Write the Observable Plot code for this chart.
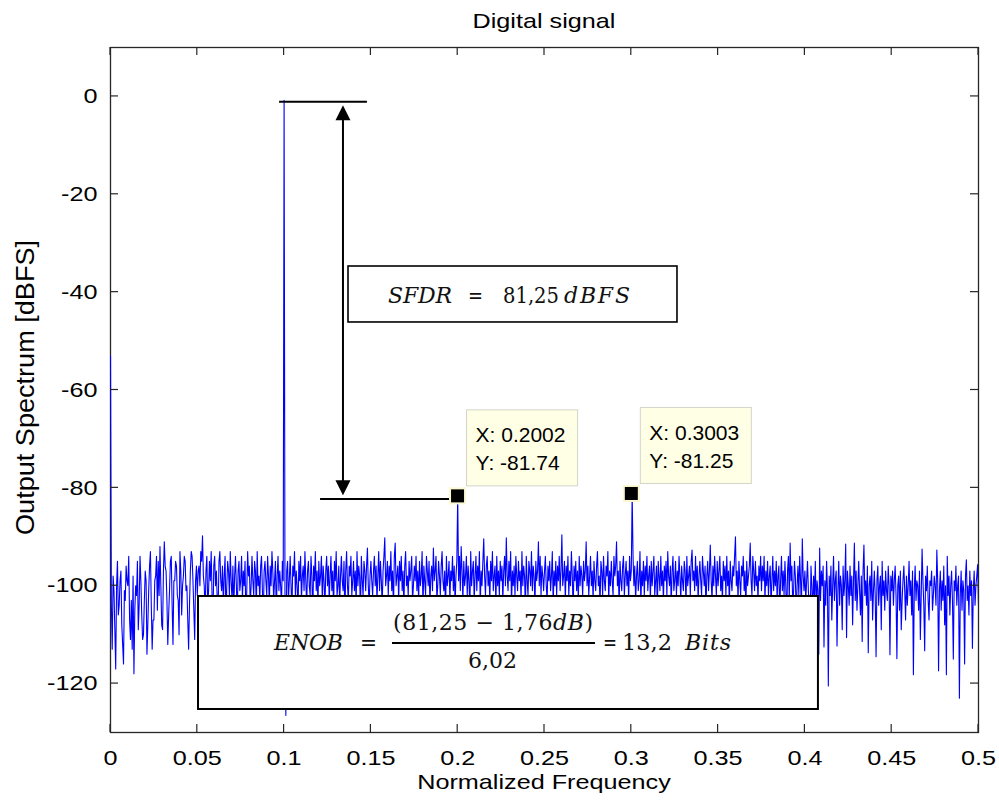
<!DOCTYPE html>
<html><head><meta charset="utf-8">
<script src="https://cdn.jsdelivr.net/npm/d3@7"></script>
<script src="https://cdn.jsdelivr.net/npm/@observablehq/plot@0.6"></script>
<style>
body{margin:0;background:#fff;}
#wrap{width:999px;height:805px;}
</style></head><body><div id="wrap"></div>
<script>
// ---- data ----
const spectrumDb = [
-53,-104,-113,-98,-101,-109,-117,-100,-95,-106,-104,-99,-97,-108,-112,-116,-101,-103,-96,-99,-100,-94,-107,-111,-103,-113,-98,-118,-105,-100,-102,-95,-109,-104,-94,-99,-106,-111,-110,-103,-97,-99,-114,-108,-101,-96,-93,-104,-113,-107,
-107,-99,-98,-94,-105,-95,-102,-92,-100,-108,-109,-97,-91,-96,-97,-103,-112,-106,-101,-95,-94,-104,-112,-99,-99,-95,-96,-102,-103,-110,-93,-97,-106,-100,-98,-94,-95,-101,-100,-107,-113,-104,-97,-93,-94,-99,-105,-111,-99,-96,
-102,-97,-96,-100,-93,-95,-89.8,-98,-100,-106,-97,-94,-104,-101,-95,-99,-93,-102,-108,-96,-94,-100,-97,-103,-105,-95,-93,-99,-101,-96,-104,-98,-94,-107,-100,-95,-97,-102,-93,-99,-103,-96,-105,-98,-94,-100,-106,-97,-95,-101,
-99,-94,-103,-97,-100,-95,-108,-101,-93,-98,-96,-104,-100,-94,-99,-102,-95,-97,-105,-93,-100,-98,-103,-96,-94,-101,-107,-97,-95,-99,-102,-94,-98,-104,-96,-100,-93,-97,-103,-99,-95,-106,-98,-94,-101,-97,-100,-104,-95,-99,
-0.8,-101,-126.5,-97,-95,-103,-99,-94,-100,-105,-96,-98,-93,-102,-97,-100,-106,-95,-99,-94,-103,-98,-96,-101,-93,-99,-104,-97,-95,-100,-102,-94,-98,-107,-96,-99,-93,-101,-97,-104,-95,-100,-98,-94,-103,-96,-99,-105,-97,-94,
-100,-96,-103,-98,-94,-101,-97,-105,-95,-99,-93,-102,-100,-96,-104,-98,-94,-99,-101,-95,-107,-97,-93,-100,-103,-96,-98,-94,-102,-99,-95,-101,-97,-104,-93,-100,-96,-98,-106,-94,-99,-102,-95,-97,-101,-96,-92.3,-100,-104,-98,
-95,-99,-102,-97,-94,-100,-96,-103,-98,-93,-101,-95,-99,-104,-97,-94,-90.2,-100,-98,-95,-102,-96,-99,-93,-101,-97,-105,-94,-91.3,-100,-98,-96,-103,-95,-99,-94,-101,-97,-104,-96,-93,-100,-98,-102,-95,-99,-97,-94,-103,-100,
-96,-99,-94,-101,-97,-103,-95,-100,-98,-93,-105,-96,-99,-102,-94,-97,-100,-95,-104,-98,-96,-101,-92.3,-99,-97,-94,-103,-100,-95,-98,-102,-96,-93,-99,-101,-97,-106,-94,-100,-98,-95,-103,-97,-99,-94,-101,-96,-104,-98,-95,
-81.74,-99,-94,-101,-92,-97,-103,-95,-100,-98,-94,-102,-96,-99,-105,-93,-100,-97,-95,-103,-98,-94,-101,-96,-99,-93,-104,-97,-100,-95,-90.4,-98,-102,-96,-94,-100,-97,-103,-95,-99,-93,-101,-98,-96,-104,-94,-100,-97,-102,-95,
-99,-96,-103,-97,-94,-100,-90.2,-98,-101,-95,-99,-93,-104,-97,-100,-96,-102,-94,-98,-101,-95,-99,-97,-103,-93,-100,-96,-98,-105,-94,-99,-102,-95,-97,-100,-93,-101,-96,-98,-104,-95,-99,-97,-91,-100,-94,-102,-96,-98,-101,
-97,-94,-100,-103,-96,-99,-95,-101,-98,-93,-104,-97,-100,-95,-102,-96,-99,-94,-101,-97,-89.6,-100,-98,-95,-103,-96,-99,-94,-102,-97,-100,-93,-98,-105,-96,-99,-95,-101,-97,-103,-94,-100,-96,-98,-102,-95,-99,-97,-91,-100,
-96,-102,-98,-94,-100,-97,-103,-95,-99,-101,-96,-93,-100,-98,-104,-95,-97,-102,-94,-99,-101,-96,-98,-93,-103,-97,-100,-95,-99,-102,-94,-98,-96,-91,-100,-97,-104,-95,-99,-101,-96,-94,-102,-98,-95,-100,-97,-103,-94,-99,
-97,-81.25,-94,-100,-96,-103,-98,-95,-101,-99,-93,-104,-97,-100,-95,-102,-96,-99,-94,-101,-98,-96,-103,-95,-100,-97,-94,-102,-99,-96,-105,-95,-98,-101,-94,-100,-97,-103,-96,-99,-95,-102,-93,-98,-100,-96,-104,-97,-94,-101,
-99,-95,-102,-97,-100,-94,-98,-103,-96,-99,-101,-95,-97,-104,-94,-100,-98,-96,-102,-95,-92.7,-99,-97,-101,-94,-100,-96,-103,-98,-95,-99,-102,-94,-97,-100,-96,-105,-98,-95,-101,-97,-91.7,-99,-103,-96,-100,-94,-98,-102,-95,
-100,-97,-94,-101,-98,-103,-95,-99,-96,-102,-94,-100,-97,-104,-95,-99,-101,-96,-98,-94,-90,-100,-97,-103,-95,-99,-102,-96,-98,-94,-101,-97,-105,-95,-100,-98,-96,-91.3,-99,-102,-94,-97,-101,-95,-100,-98,-103,-96,-99,-94,
-101,-96,-99,-94,-103,-97,-100,-95,-102,-98,-96,-104,-99,-94,-101,-97,-100,-95,-103,-98,-96,-106,-99,-94,-101,-97,-102,-95,-100,-108,-97,-94,-103,-91.3,-99,-96,-104,-101,-95,-98,-107,-100,-96,-102,-94,-99,-105,-90.4,-98,-101,
-97,-103,-99,-95,-101,-104,-108,-96,-100,-106,-98,-102,-95,-105,-99,-101,-114,-92.3,-103,-97,-100,-96,-112.5,-99,-104,-95,-101,-120.5,-98,-102,-96,-107,-100,-94,-103,-99,-97,-112.3,-101,-95,-104,-98,-100,-109,-96,-102,-99,-91.5,-110.6,-97,
-100,-104,-96,-102,-98,-108,-99,-91.3,-103,-97,-105,-100,-95,-101,-106,-98,-111.4,-97,-91.7,-102,-99,-104,-96,-113.7,-100,-98,-103,-95,-107,-101,-97,-102,-114.5,-99,-96,-104,-100,-98,-109,-95,-102,-99,-105,-97,-101,-103,-96,-100,-114.1,-98,
-101,-97,-104,-99,-96,-102,-114.9,-100,-98,-105,-97,-109,-103,-99,-96,-101,-107,-98,-104,-100,-95,-102,-99,-106,-97,-118.2,-101,-96,-103,-99,-100,-105,-97,-111,-102,-92.5,-99,-104,-113.3,-98,-101,-96,-103,-107,-99,-100,-97,-105,-102,-98,
-100,-104,-92.7,-99,-117.4,-101,-97,-105,-99,-103,-96,-108,-100,-118.2,-94,-102,-98,-106,-100,-97,-103,-115,-99,-101,-96,-104,-100,-98,-123,-102,-97,-105,-99,-101,-116,-98,-94.7,-103,-100,-106,-97,-102,-99,-112.8,-101,-97,-104,-100,-98,-95.7,-104
];
const peakFreq = [0.1, 0.101, 0.2002, 0.3003];
const peakDb   = [-0.8, -126.5, -81.74, -81.25];

const xTicks = [0, 0.05, 0.1, 0.15, 0.2, 0.25, 0.3, 0.35, 0.4, 0.45, 0.5];
const xTickLabels = ["0","0.05","0.1","0.15","0.2","0.25","0.3","0.35","0.4","0.45","0.5"];
const yTicks = [0, -20, -40, -60, -80, -100, -120];
const yTickLabels = ["0","-20","-40","-60","-80","-100","-120"];

const tipFreq = [0.2002, 0.3003];
const tipDb = [-81.74, -81.25];
const tipLines = [["X: 0.2002","Y: -81.74"],["X: 0.3003","Y: -81.25"]];

// annotation geometry in data units
const sfdrArrowFreq = 0.1342;
const sfdrTopLine = [0.0974, 0.148, -1.2];
const sfdrBottomLine = [0.121, 0.1955, -82.4];
const sfdrTips = [-1.9, -81.6];
const sfdrBox = [0.1371, 0.3266, -34.76, -46.2];
const enobBox = [0.0507, 0.4078, -102.2, -125.3];

// ---- build ----
const n = spectrumDb.length;
const step = 0.5 / (n - 1);
const dbValues = spectrumDb.slice();
peakFreq.forEach((f, k) => { dbValues[Math.round(f / step)] = peakDb[k]; });
const spectrum = dbValues.map((db, i) => ({f: i * step, db}));

const xLabelMap = new Map(xTicks.map((t, i) => [t, xTickLabels[i]]));
const yLabelMap = new Map(yTicks.map((t, i) => [t, yTickLabels[i]]));

const SANS = "'Liberation Sans', Arial, Helvetica, sans-serif";
const SERIF = "'DejaVu Serif', 'Liberation Serif', serif";

const chart = Plot.plot({
  width: 999, height: 805,
  marginLeft: 110, marginRight: 21, marginTop: 47, marginBottom: 73,
  x: {domain: [0, 0.5]},
  y: {domain: [-130, 10]},
  style: {fontFamily: SANS, fontSize: "21px", color: "#000", background: "#fff", overflow: "visible"},
  marks: [
    Plot.frame({stroke: "#262626", strokeWidth: 1.3}),
    Plot.axisX(xTicks, {anchor: "bottom", tickSize: 0, tickPadding: 18, tickFormat: d => xLabelMap.get(d), label: null, fill: "#000"}),
    Plot.axisY(yTicks, {anchor: "left", tickSize: 0, tickPadding: 13, tickFormat: d => yLabelMap.get(d), label: null, fill: "#000"}),
    Plot.line(spectrum, {x: "f", y: "db", stroke: "#0000ff", strokeWidth: 1.1, clip: true})
  ]
});
document.getElementById("wrap").appendChild(chart);

const svg = d3.select(chart);
// horizontal stretch of the sans axis text (the reference text is wider than Arial)
svg.selectAll("text").each(function () {
  const L = this.getComputedTextLength();
  this.setAttribute("textLength", L * 1.2);
  this.setAttribute("lengthAdjust", "spacingAndGlyphs");
});

const sx = chart.scale("x"), sy = chart.scale("y");
const X = v => sx.apply(v), Y = v => sy.apply(v);
const xL = X(0), xR = X(0.5), yT = Y(10), yB = Y(-130);

// inward ticks on all four sides
const tk = svg.append("g").attr("stroke", "#262626").attr("stroke-width", 1.2);
const TL = 8;
xTicks.forEach(t => {
  const p = X(t);
  tk.append("line").attr("x1", p).attr("x2", p).attr("y1", yB).attr("y2", yB - TL);
  tk.append("line").attr("x1", p).attr("x2", p).attr("y1", yT).attr("y2", yT + TL);
});
yTicks.forEach(t => {
  const p = Y(t);
  tk.append("line").attr("y1", p).attr("y2", p).attr("x1", xL).attr("x2", xL + TL);
  tk.append("line").attr("y1", p).attr("y2", p).attr("x1", xR).attr("x2", xR - TL);
});

// titles
function sansText(x, y, s, stretch, anchor = "middle", size = 21) {
  const t = svg.append("text").attr("x", x).attr("y", y).attr("text-anchor", anchor)
    .attr("font-family", SANS).attr("font-size", size).attr("fill", "#000").text(s);
  if (stretch) {
    const L = t.node().getComputedTextLength();
    t.attr("textLength", L * stretch).attr("lengthAdjust", "spacingAndGlyphs");
  }
  return t;
}
sansText((xL + xR) / 2, 28, "Digital signal", 1.2);
sansText((xL + xR) / 2, 789, "Normalized Frequency", 1.2);
const yl = sansText(0, 0, "Output Spectrum [dBFS]", 0, "middle", 25)
  .attr("transform", `translate(34,${(yT + yB) / 2 - 2}) rotate(-90)`);
yl.attr("textLength", 295).attr("lengthAdjust", "spacingAndGlyphs");

// SFDR annotation
const an = svg.append("g");
const ax = X(sfdrArrowFreq);
an.append("line").attr("x1", X(sfdrTopLine[0])).attr("x2", X(sfdrTopLine[1]))
  .attr("y1", Y(sfdrTopLine[2])).attr("y2", Y(sfdrTopLine[2])).attr("stroke", "#000").attr("stroke-width", 2);
an.append("line").attr("x1", X(sfdrBottomLine[0])).attr("x2", X(sfdrBottomLine[1]))
  .attr("y1", Y(sfdrBottomLine[2])).attr("y2", Y(sfdrBottomLine[2])).attr("stroke", "#000").attr("stroke-width", 2);
const t1 = Y(sfdrTips[0]), t2 = Y(sfdrTips[1]);
an.append("line").attr("x1", ax).attr("x2", ax).attr("y1", t1 + 10).attr("y2", t2 - 10).attr("stroke", "#000").attr("stroke-width", 2);
an.append("path").attr("d", `M${ax},${t1}L${ax - 7.5},${t1 + 15}L${ax + 7.5},${t1 + 15}Z`).attr("fill", "#000");
an.append("path").attr("d", `M${ax},${t2}L${ax - 7.5},${t2 - 15}L${ax + 7.5},${t2 - 15}Z`).attr("fill", "#000");

function mathText(g, x, y, parts, width, adjust = "spacing") {
  const t = g.append("text").attr("x", x).attr("y", y).attr("text-anchor", "start")
    .attr("font-family", SERIF).attr("font-size", 22).attr("fill", "#111");
  parts.forEach(([s, it]) => t.append("tspan").attr("font-style", it ? "italic" : "normal").text(s));
  if (width) t.attr("textLength", width).attr("lengthAdjust", adjust);
  return t;
}

// SFDR box
{
  const bx = X(sfdrBox[0]), by = Y(sfdrBox[2]);
  const bw = X(sfdrBox[1]) - bx, bh = Y(sfdrBox[3]) - by;
  const g = svg.append("g").attr("transform", `translate(${bx},${by})`);
  g.append("rect").attr("width", bw).attr("height", bh).attr("fill", "#fff").attr("stroke", "#000").attr("stroke-width", 1.6);
  mathText(g, 40, 37, [["SFDR", true]], 64);
  mathText(g, 120, 37, [["=", false]], 15, "spacingAndGlyphs");
  mathText(g, 155, 37, [["81,25", false]], 56, "spacingAndGlyphs");
  mathText(g, 216, 37, [["dBFS", true]], 66);
}

// ENOB box
{
  const bx = X(enobBox[0]), by = Y(enobBox[2]);
  const bw = X(enobBox[1]) - bx, bh = Y(enobBox[3]) - by;
  const g = svg.append("g").attr("transform", `translate(${bx},${by})`);
  g.append("rect").attr("width", bw).attr("height", bh).attr("fill", "#fff").attr("stroke", "#000").attr("stroke-width", 2);
  mathText(g, 76, 54, [["ENOB", true]], 69);
  mathText(g, 162, 54, [["=", false]], 17, "spacingAndGlyphs");
  mathText(g, 195, 34, [["(81,25 \u2212 1,76", false], ["dB", true], [")", false]], 200);
  g.append("line").attr("x1", 194).attr("x2", 397).attr("y1", 47).attr("y2", 47).attr("stroke", "#000").attr("stroke-width", 2);
  mathText(g, 270, 72, [["6,02", false]], 49, "spacingAndGlyphs");
  mathText(g, 405, 54, [["=", false]], 14, "spacingAndGlyphs");
  mathText(g, 424, 54, [["13,2", false]], 50, "spacingAndGlyphs");
  mathText(g, 487, 54, [["Bits", true]], 46);
}

// data tips
tipFreq.forEach((f, k) => {
  const px = X(f), py = Y(tipDb[k]);
  const g = svg.append("g");
  g.append("rect").attr("x", px - 8.5).attr("y", py - 8.5).attr("width", 17).attr("height", 17).attr("fill", "#fbf7d2");
  g.append("rect").attr("x", px - 6.5).attr("y", py - 6.5).attr("width", 13).attr("height", 13).attr("fill", "#000");
  const bx = px + 9, by = py - 86;
  g.append("rect").attr("x", bx).attr("y", by).attr("width", 111).attr("height", 76)
    .attr("fill", "#ffffe6").attr("stroke", "#d4d4c8").attr("stroke-width", 1);
  tipLines[k].forEach((s, j) => {
    g.append("text").attr("x", bx + 9).attr("y", by + 32.5 + j * 28).attr("text-anchor", "start")
      .attr("font-family", SANS).attr("font-size", 21).attr("fill", "#000").text(s);
  });
});
</script>
</body></html>
